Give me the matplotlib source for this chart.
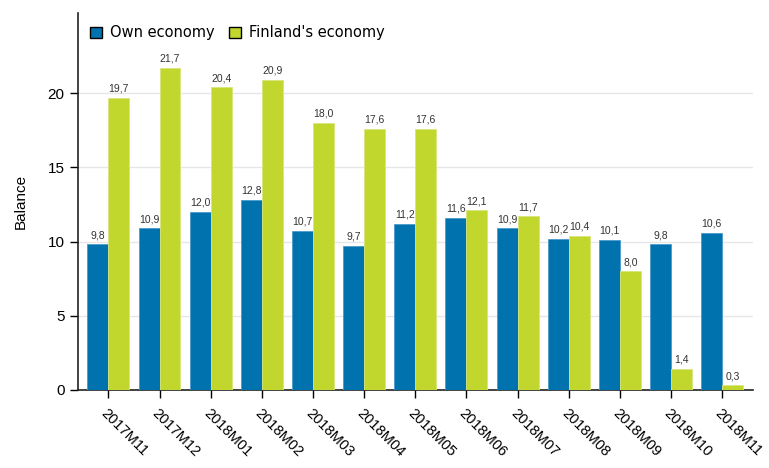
import matplotlib
matplotlib.use('Agg')
import matplotlib.pyplot as plt
import numpy as np

# data
months = ['2017M11', '2017M12', '2018M01', '2018M02', '2018M03', '2018M04', '2018M05',
          '2018M06', '2018M07', '2018M08', '2018M09', '2018M10', '2018M11']
own = [9.8, 10.9, 12.0, 12.8, 10.7, 9.7, 11.2, 11.6, 10.9, 10.2, 10.1, 9.8, 10.6]
finland = [19.7, 21.7, 20.4, 20.9, 18.0, 17.6, 17.6, 12.1, 11.7, 10.4, 8.0, 1.4, 0.3]

blue = '#0072AE'
green = '#C1D72E'

plt.rcParams['font.family'] = ['Liberation Sans', 'DejaVu Sans']

fig = plt.figure(figsize=(7.69, 4.68), dpi=100, facecolor='white')
ax = fig.add_axes([0.101, 0.167, 0.878, 0.805])

x = np.arange(len(months))
w = 0.41
b1 = ax.bar(x - w / 2, own, w, color=blue, edgecolor='#4a9bcc', linewidth=0.6,
            label='Own economy', zorder=3)
b2 = ax.bar(x + w / 2, finland, w, color=green, edgecolor='#d8e67a', linewidth=0.6,
            label="Finland's economy", zorder=3)

def fmt(v):
    return ('%.1f' % v).replace('.', ',')

for bars in (b1, b2):
    for r in bars:
        ax.annotate(fmt(r.get_height()), (r.get_x() + r.get_width() / 2, r.get_height()),
                    xytext=(0, 3), textcoords='offset points', ha='center', va='bottom',
                    fontsize=7.5, color='#333333', zorder=4)

ax.set_xlim(-0.6, 12.6)
ax.set_ylim(0, 25.4)
ax.set_yticks([0, 5, 10, 15, 20])
ax.yaxis.grid(True, color='#e6e6e6', linewidth=1, zorder=0)
ax.set_axisbelow(True)

ax.set_xticks(x)
ax.set_xticklabels(months, rotation=-45, ha='left', va='top', rotation_mode='anchor',
                   fontsize=10.5)
ax.tick_params(axis='x', length=6, width=1, pad=6)
ax.tick_params(axis='y', length=6, width=1, labelsize=11)

ax.spines[['top', 'right']].set_visible(False)
ax.spines[['left', 'bottom']].set_color('#222222')
ax.spines[['left', 'bottom']].set_linewidth(1.2)

ax.set_ylabel('Balance', fontsize=11, labelpad=14)

ax.legend(loc='upper left', ncol=2, frameon=False,
          prop={'family': 'DejaVu Sans', 'size': 10.5}, handlelength=0.85,
          handleheight=0.85, handletextpad=0.5, columnspacing=1.0,
          borderaxespad=0.45, bbox_to_anchor=(0.0, 1.0))
leg = ax.get_legend()
for h in leg.legend_handles:
    h.set_edgecolor('black')
    h.set_linewidth(1)

plt.savefig('out.png', dpi=100)
